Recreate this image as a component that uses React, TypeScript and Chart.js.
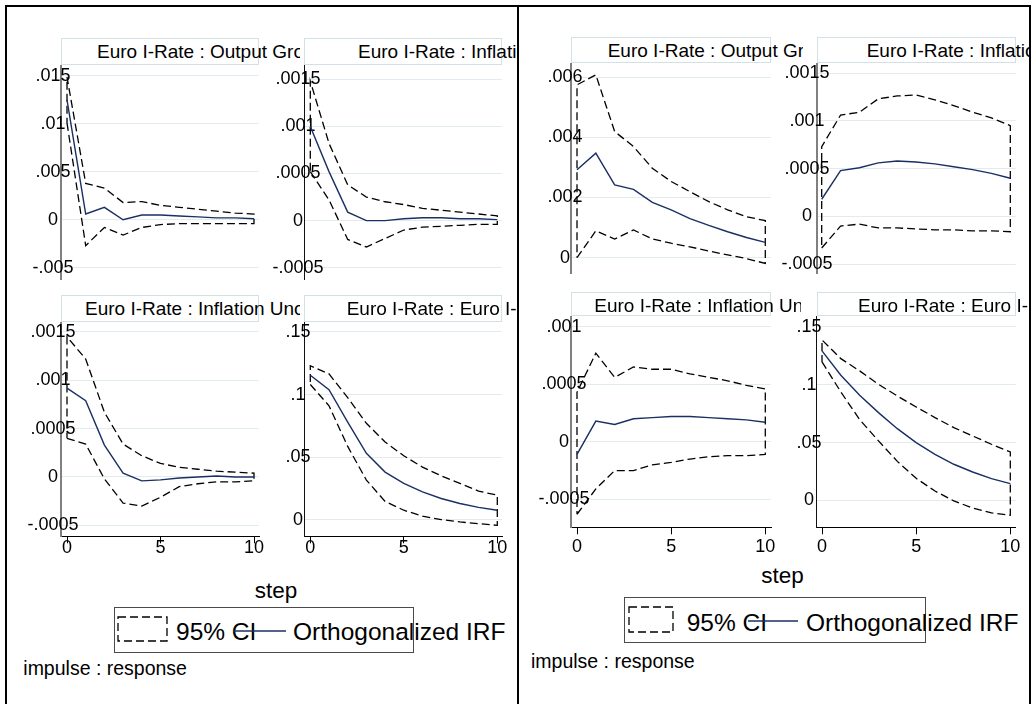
import React, { useEffect, useRef } from "react";
import { Chart, registerables } from "chart.js";

Chart.register(...registerables);

// ---------------- data ----------------
const STEPS = [0, 1, 2, 3, 4, 5, 6, 7, 8, 9, 10];
const X_TICKS = [0, 5, 10];

// left graph
const A_OUT_IRF = [0.0125, 0.0006, 0.0013, 0.0, 0.0005, 0.0005, 0.0004, 0.0003, 0.0002, 0.0002, 0.0001];
const A_OUT_LO = [0.0101, -0.0027, -0.0008, -0.0016, -0.0008, -0.0005, -0.0004, -0.0004, -0.0004, -0.0004, -0.0004];
const A_OUT_HI = [0.0149, 0.0038, 0.0033, 0.0018, 0.0019, 0.0015, 0.0013, 0.0011, 0.0009, 0.0007, 0.0006];
const A_OUT_TICKS = [-0.005, 0, 0.005, 0.01, 0.015];

const A_INF_IRF = [0.001, 0.00052, 0.00009, 0.0, 0.0, 0.00002, 0.00003, 0.00003, 0.00002, 0.00002, 0.00001];
const A_INF_LO = [0.00052, 0.00022, -0.0002, -0.00028, -0.00019, -0.0001, -0.00007, -0.00006, -0.00005, -0.00004, -0.00004];
const A_INF_HI = [0.00148, 0.00082, 0.00038, 0.00025, 0.0002, 0.00017, 0.00013, 0.00011, 0.00009, 0.00007, 0.00005];
const A_INF_TICKS = [-0.0005, 0, 0.0005, 0.001, 0.0015];

const A_UNC_IRF = [0.00092, 0.00079, 0.00033, 0.00004, -0.00004, -0.00003, -0.00001, 0.0, 0.00001, 0.0, 0.0];
const A_UNC_LO = [0.0004, 0.00034, -0.00002, -0.00027, -0.0003, -0.00021, -0.0001, -0.00007, -0.00005, -0.00005, -0.00004];
const A_UNC_HI = [0.00145, 0.00122, 0.00067, 0.00034, 0.00022, 0.00014, 0.0001, 0.00008, 0.00006, 0.00005, 0.00004];
const A_UNC_TICKS = [-0.0005, 0, 0.0005, 0.001, 0.0015];

const A_EUR_IRF = [0.1154, 0.1039, 0.078, 0.053, 0.038, 0.0289, 0.0222, 0.0169, 0.0129, 0.0098, 0.0075];
const A_EUR_LO = [0.108, 0.091, 0.0585, 0.0316, 0.0145, 0.0075, 0.0027, 0.0, -0.0019, -0.0032, -0.0046];
const A_EUR_HI = [0.123, 0.1165, 0.0975, 0.077, 0.062, 0.051, 0.042, 0.035, 0.029, 0.0228, 0.0195];
const A_EUR_TICKS = [0, 0.05, 0.1, 0.15];

// right graph
const B_OUT_IRF = [0.00292, 0.00347, 0.00242, 0.00227, 0.00184, 0.00159, 0.0013, 0.00107, 0.00086, 0.00067, 0.00051];
const B_OUT_LO = [0.0, 0.00089, 0.00062, 0.00092, 0.00062, 0.00048, 0.00036, 0.00022, 0.00009, -0.00003, -0.00019];
const B_OUT_HI = [0.00574, 0.00607, 0.00419, 0.00369, 0.00297, 0.00253, 0.00219, 0.00186, 0.00159, 0.00136, 0.00123];
const B_OUT_TICKS = [0, 0.002, 0.004, 0.006];

const B_INF_IRF = [0.00018, 0.00048, 0.00051, 0.00056, 0.00058, 0.00057, 0.00055, 0.00052, 0.00049, 0.00045, 0.0004];
const B_INF_LO = [-0.00033, -0.0001, -0.00008, -0.00012, -0.00012, -0.00013, -0.00014, -0.00014, -0.00015, -0.00015, -0.00016];
const B_INF_HI = [0.00073, 0.00106, 0.00109, 0.00123, 0.00126, 0.00127, 0.00122, 0.00116, 0.00109, 0.00103, 0.00095];
const B_INF_TICKS = [-0.0005, 0, 0.0005, 0.001, 0.0015];

const B_UNC_IRF = [-0.00011, 0.00018, 0.00015, 0.0002, 0.00021, 0.00022, 0.00022, 0.00021, 0.0002, 0.00019, 0.00017];
const B_UNC_LO = [-0.00063, -0.00041, -0.00025, -0.00025, -0.0002, -0.00018, -0.00015, -0.00013, -0.00012, -0.00012, -0.00011];
const B_UNC_HI = [0.00043, 0.00077, 0.00056, 0.00065, 0.00063, 0.00063, 0.00059, 0.00056, 0.00053, 0.00049, 0.00046];
const B_UNC_TICKS = [-0.0005, 0, 0.0005, 0.001];

const B_EUR_IRF = [0.1293, 0.1082, 0.0909, 0.0759, 0.062, 0.0499, 0.0398, 0.0312, 0.0245, 0.0188, 0.0144];
const B_EUR_LO = [0.1198, 0.0938, 0.0698, 0.0514, 0.0337, 0.019, 0.008, -0.0005, -0.0067, -0.0109, -0.013];
const B_EUR_HI = [0.1388, 0.1226, 0.112, 0.1004, 0.0903, 0.0808, 0.0716, 0.0629, 0.0557, 0.0485, 0.0418];
const B_EUR_TICKS = [0, 0.05, 0.1, 0.15];

const T_OUT = "Euro I-Rate : Output Growth";
const T_INF = "Euro I-Rate : Inflation";
const T_UNC = "Euro I-Rate : Inflation Uncertainty";
const T_EUR = "Euro I-Rate : Euro I-Rate";
const LEGEND_CI = "95% CI";
const LEGEND_IRF = "Orthogonalized IRF";
const X_TITLE = "step";
const NOTE = "impulse : response";

// ---------------- styles ----------------
const FONT = '"Liberation Sans", Arial, Helvetica, sans-serif';
const NAVY = "#1a2f63";
const GRID = "#e2ecef";
const BOXC = "#d3e0e5";
const AX_GRAY = { color: "#808080", width: 2 };
const AX_BLACK = { color: "#111111", width: 1 };
const RIGHT_EXTRA = 16;

type Geo = {
  plotL: number; plotR: number; plotT: number; plotB: number;
  x0: number; x10: number;
  yA: { v: number; px: number }; yB: { v: number; px: number };
  labelC: number; showX: boolean; xLabC: number; axis: { color: string; width: number };
  boxT: number; textX: number; clipL: number; clipR: number;
};

const SUBPLOTS: { title: string; irf: number[]; lo: number[]; hi: number[]; ticks: number[]; geo: Geo }[] = [
  { title: T_OUT, irf: A_OUT_IRF, lo: A_OUT_LO, hi: A_OUT_HI, ticks: A_OUT_TICKS,
    geo: { plotL: 61, plotR: 259, plotT: 65, plotB: 280, x0: 67, x10: 254, yA: { v: 0.015, px: 76 }, yB: { v: -0.005, px: 267.7 }, labelC: 53, showX: false, xLabC: 0, axis: AX_GRAY, boxT: 38, textX: 97, clipL: 8, clipR: 300 } },
  { title: T_INF, irf: A_INF_IRF, lo: A_INF_LO, hi: A_INF_HI, ticks: A_INF_TICKS,
    geo: { plotL: 304.3, plotR: 502, plotT: 65, plotB: 280, x0: 310.3, x10: 497.3, yA: { v: 0.0015, px: 79.3 }, yB: { v: -0.0005, px: 267.7 }, labelC: 298, showX: false, xLabC: 0, axis: AX_BLACK, boxT: 38, textX: 358, clipL: 300, clipR: 517 } },
  { title: T_UNC, irf: A_UNC_IRF, lo: A_UNC_LO, hi: A_UNC_HI, ticks: A_UNC_TICKS,
    geo: { plotL: 61, plotR: 259, plotT: 321.7, plotB: 536, x0: 67, x10: 254, yA: { v: 0.0015, px: 331.7 }, yB: { v: -0.0005, px: 525 }, labelC: 53, showX: true, xLabC: 548, axis: AX_GRAY, boxT: 295, textX: 85, clipL: 8, clipR: 300 } },
  { title: T_EUR, irf: A_EUR_IRF, lo: A_EUR_LO, hi: A_EUR_HI, ticks: A_EUR_TICKS,
    geo: { plotL: 304.3, plotR: 502, plotT: 321.7, plotB: 536, x0: 310.3, x10: 497.3, yA: { v: 0.15, px: 331.7 }, yB: { v: 0, px: 519.3 }, labelC: 298, showX: true, xLabC: 548, axis: AX_BLACK, boxT: 295, textX: 346.7, clipL: 300, clipR: 517 } },
  { title: T_OUT, irf: B_OUT_IRF, lo: B_OUT_LO, hi: B_OUT_HI, ticks: B_OUT_TICKS,
    geo: { plotL: 571, plotR: 771, plotT: 63.3, plotB: 274, x0: 577, x10: 765.3, yA: { v: 0.006, px: 77.3 }, yB: { v: 0, px: 257.7 }, labelC: 565, showX: false, xLabC: 0, axis: AX_GRAY, boxT: 36.7, textX: 607.7, clipL: 520, clipR: 803 } },
  { title: T_INF, irf: B_INF_IRF, lo: B_INF_LO, hi: B_INF_HI, ticks: B_INF_TICKS,
    geo: { plotL: 816.7, plotR: 1015.7, plotT: 63.3, plotB: 274, x0: 821.7, x10: 1010.3, yA: { v: 0.0015, px: 73.3 }, yB: { v: -0.0005, px: 264.3 }, labelC: 807, showX: false, xLabC: 0, axis: AX_GRAY, boxT: 37.2, textX: 866.7, clipL: 803, clipR: 1029 } },
  { title: T_UNC, irf: B_UNC_IRF, lo: B_UNC_LO, hi: B_UNC_HI, ticks: B_UNC_TICKS,
    geo: { plotL: 571, plotR: 771, plotT: 316, plotB: 527.3, x0: 577, x10: 765.3, yA: { v: 0.001, px: 326.7 }, yB: { v: -0.0005, px: 499.3 }, labelC: 564, showX: true, xLabC: 547.5, axis: AX_GRAY, boxT: 291.7, textX: 594.3, clipL: 520, clipR: 801 } },
  { title: T_EUR, irf: B_EUR_IRF, lo: B_EUR_LO, hi: B_EUR_HI, ticks: B_EUR_TICKS,
    geo: { plotL: 816.7, plotR: 1015.7, plotT: 316, plotB: 527.3, x0: 822, x10: 1010.3, yA: { v: 0.15, px: 327 }, yB: { v: 0, px: 500.3 }, labelC: 809, showX: true, xLabC: 547.5, axis: AX_BLACK, boxT: 291.7, textX: 858, clipL: 803, clipR: 1029 } },
];

function fmt(v: number): string {
  if (v === 0) return "0";
  return String(v).replace(/^(-?)0\./, "$1.");
}

function canvasBox(g: Geo) {
  const left = Math.round(g.plotL - 60);
  const top = g.plotT;
  const W = Math.round(g.plotR - left + RIGHT_EXTRA);
  const padR = W - (g.plotR - left);
  const extra = g.showX ? g.xLabC - g.plotB + 14 : 0;
  const H = Math.round(g.plotB - g.plotT + extra);
  const extraR = H - (g.plotB - g.plotT);
  return { left, top, W, H, extra: extraR, padR };
}

function Subplot({ cfg }: { cfg: (typeof SUBPLOTS)[number] }) {
  const ref = useRef<HTMLCanvasElement>(null);
  const g = cfg.geo;
  const cb = canvasBox(g);

  useEffect(() => {
    if (!ref.current) return;
    const pxPerX = (g.x10 - g.x0) / 10;
    const xMin = -(g.x0 - g.plotL) / pxPerX;
    const xMax = 10 + (g.plotR - g.x10) / pxPerX;
    const pxPerY = (g.yB.px - g.yA.px) / (g.yA.v - g.yB.v);
    const yMax = g.yA.v + (g.yA.px - g.plotT) / pxPerY;
    const yMin = g.yA.v - (g.plotB - g.yA.px) / pxPerY;

    const m = document.createElement("canvas").getContext("2d")!;
    m.font = `18px ${FONT}`;
    const widest = Math.max(...cfg.ticks.map((t) => m.measureText(fmt(t)).width));
    // mirrored labels: centre = plotL + padding + widest/2
    const yPad = g.labelC - g.plotL - widest / 2;
    const xPad = g.showX ? g.xLabC - g.plotB - 7 - 10.8 : 0;

    const irfPts = STEPS.map((s, i) => ({ x: s, y: cfg.irf[i] }));
    const ciPts = [
      ...STEPS.map((s, i) => ({ x: s, y: cfg.lo[i] })),
      ...STEPS.map((s, i) => ({ x: s, y: cfg.hi[i] })).reverse(),
      { x: STEPS[0], y: cfg.lo[0] },
    ];

    const chart = new Chart(ref.current, {
      type: "scatter",
      data: {
        datasets: [
          { label: LEGEND_IRF, data: irfPts, showLine: true, borderColor: NAVY, borderWidth: 1.4, pointRadius: 0, tension: 0, order: 0 },
          { label: LEGEND_CI, data: ciPts, showLine: true, borderColor: "#000", borderWidth: 1.3, borderDash: [8, 4], pointRadius: 0, tension: 0, order: 1 },
        ],
      },
      options: {
        animation: false,
        responsive: false,
        devicePixelRatio: 1,
        events: [],
        layout: { padding: { left: 0, top: 0, bottom: 0, right: cb.padR } },
        plugins: { legend: { display: false }, tooltip: { enabled: false }, title: { display: false } },
        scales: {
          x: {
            type: "linear",
            position: "bottom",
            min: xMin,
            max: xMax,
            display: g.showX,
            afterBuildTicks: (s: any) => { s.ticks = X_TICKS.map((v) => ({ value: v })); },
            afterFit: (s: any) => { s.height = g.showX ? cb.extra : 0; s.paddingLeft = 0; s.paddingRight = 0; },
            grid: { drawOnChartArea: false, drawTicks: true, tickLength: 7, color: "#000", tickColor: "#000", lineWidth: 1 },
            border: { display: true, color: "#000", width: 1 },
            ticks: { autoSkip: false, maxRotation: 0, padding: xPad, color: "#000", font: { family: FONT, size: 18 }, callback: (v: any) => String(v) },
          },
          y: {
            type: "linear",
            position: "left",
            min: yMin,
            max: yMax,
            afterBuildTicks: (s: any) => { s.ticks = cfg.ticks.map((v) => ({ value: v })); },
            afterFit: (s: any) => { s.width = g.plotL - cb.left; s.paddingTop = 0; s.paddingBottom = 0; },
            grid: { drawTicks: false, color: GRID, lineWidth: 1 },
            border: { display: true, color: g.axis.color, width: g.axis.width },
            ticks: { autoSkip: false, mirror: true, crossAlign: "center", padding: yPad, color: "#000", font: { family: FONT, size: 18 }, callback: (v: any) => fmt(Number(v)) },
          },
        },
      },
    } as any);
    return () => chart.destroy();
  }, []);

  const textTop = g.boxT + 3.8;
  return (
    <>
      <div
        style={{
          position: "absolute", left: g.plotL, top: g.boxT, width: g.plotR - g.plotL, height: g.plotT - g.boxT,
          border: `1px solid ${BOXC}`, boxSizing: "border-box", background: "#fff",
        }}
      />
      <div
        style={{
          position: "absolute", left: g.clipL, top: textTop, width: g.clipR - g.clipL, height: 24,
          overflow: "hidden", whiteSpace: "nowrap",
        }}
      >
        <span style={{ position: "absolute", left: g.textX - g.clipL, top: 0, font: `19px ${FONT}`, lineHeight: "19px", color: "#000" }}>
          {cfg.title}
        </span>
      </div>
      <canvas
        ref={ref}
        width={cb.W}
        height={cb.H}
        style={{ position: "absolute", left: cb.left, top: cb.top, width: cb.W, height: cb.H }}
      />
    </>
  );
}

function Legend({ box, keyBox, line, ciX, irfX, textTop }: any) {
  return (
    <>
      <div style={{ position: "absolute", left: box.l, top: box.t, width: box.w, height: box.h, border: "1px solid #4a4a4a", boxSizing: "border-box" }} />
      <svg style={{ position: "absolute", left: keyBox.l - 1, top: keyBox.t - 1 }} width={keyBox.w + 2} height={keyBox.h + 2}>
        <rect x={1} y={1} width={keyBox.w} height={keyBox.h} fill="none" stroke="#000" strokeWidth={1.3} strokeDasharray="8 4" />
      </svg>
      <div style={{ position: "absolute", left: ciX, top: textTop, font: `24.5px ${FONT}`, lineHeight: "24.5px", whiteSpace: "nowrap", color: "#000" }}>{LEGEND_CI}</div>
      <svg style={{ position: "absolute", left: line.l, top: line.y - 2 }} width={line.w} height={4}>
        <line x1={0} y1={2} x2={line.w} y2={2} stroke={NAVY} strokeWidth={1.5} />
      </svg>
      <div style={{ position: "absolute", left: irfX, top: textTop, font: `24.5px ${FONT}`, lineHeight: "24.5px", whiteSpace: "nowrap", color: "#000" }}>{LEGEND_IRF}</div>
    </>
  );
}

export default function App() {
  const line = (l: number, t: number, w: number, h: number) => (
    <div style={{ position: "absolute", left: l, top: t, width: w, height: h, background: "#000" }} />
  );
  return (
    <div style={{ position: "absolute", left: 0, top: 0, width: 1033, height: 704, overflow: "hidden", background: "#fff" }}>
      {SUBPLOTS.map((c, i) => (
        <Subplot key={"sp" + i} cfg={c} />
      ))}

      <div style={{ position: "absolute", left: 176, top: 580, width: 200, textAlign: "center", font: `22.5px ${FONT}`, lineHeight: "22.5px" }}>{X_TITLE}</div>
      <div style={{ position: "absolute", left: 682.5, top: 565, width: 200, textAlign: "center", font: `22.5px ${FONT}`, lineHeight: "22.5px" }}>{X_TITLE}</div>

      <Legend
        box={{ l: 114, t: 607, w: 300, h: 46 }}
        keyBox={{ l: 118, t: 617, w: 49, h: 24 }}
        line={{ l: 233, y: 631, w: 53 }}
        ciX={176}
        irfX={293}
        textTop={619.8}
      />
      <Legend
        box={{ l: 623.7, t: 597.3, w: 302.3, h: 46 }}
        keyBox={{ l: 629, t: 606.7, w: 44, h: 25 }}
        line={{ l: 747.7, y: 620.7, w: 50 }}
        ciX={686.7}
        irfX={806}
        textTop={610.5}
      />

      <div style={{ position: "absolute", left: 23.3, top: 658.5, font: `19.5px ${FONT}`, lineHeight: "19.5px", whiteSpace: "nowrap" }}>{NOTE}</div>
      <div style={{ position: "absolute", left: 531, top: 651.5, font: `19.5px ${FONT}`, lineHeight: "19.5px", whiteSpace: "nowrap" }}>{NOTE}</div>

      {line(5, 5, 1026, 2)}
      {line(5, 5, 2, 699)}
      {line(517, 5, 2, 699)}
      {line(1029, 5, 2, 699)}
    </div>
  );
}
